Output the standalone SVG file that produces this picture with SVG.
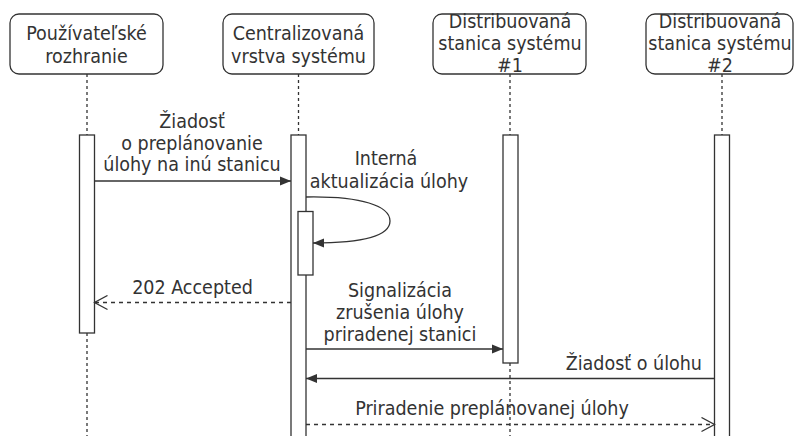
<svg xmlns="http://www.w3.org/2000/svg" width="798" height="436" viewBox="0 0 798 436">
  <style>
    text { font-family: "DejaVu Sans Condensed", "DejaVu Sans", sans-serif; font-stretch: condensed; font-size: 19.5px; fill: #333; }
    .mid { text-anchor: middle; }
    .end { text-anchor: end; }
    .head { fill: #fff; stroke: #333; stroke-width: 1.3; }
    .life { stroke: #333; stroke-width: 1.3; stroke-dasharray: 3 3; fill: none; }
    .bar { fill: #fff; stroke: #333; stroke-width: 1.3; }
    .msg { stroke: #333; stroke-width: 1.3; fill: none; }
    .ret { stroke: #333; stroke-width: 1.3; fill: none; stroke-dasharray: 4 4; }
  </style>
  <defs>
    <marker id="block" markerUnits="userSpaceOnUse" markerWidth="14" markerHeight="12" refX="12" refY="6" orient="auto">
      <path d="M1,1.5 L12,6 L1,10.5 z" fill="#333"/>
    </marker>
    <marker id="open" markerUnits="userSpaceOnUse" markerWidth="16" markerHeight="16" refX="14" refY="8" orient="auto">
      <path d="M1,1 L14,8 L1,15" fill="none" stroke="#333" stroke-width="1.3"/>
    </marker>
  </defs>

  <rect width="798" height="436" fill="#fff"/>

  <!-- lifelines -->
  <g id="lifelines">
    <line class="life" x1="87" y1="74" x2="87" y2="135"/>
    <line class="life" x1="87" y1="333" x2="87" y2="436"/>
    <line class="life" x1="298.5" y1="74" x2="298.5" y2="135"/>
    <line class="life" x1="510" y1="74" x2="510" y2="135"/>
    <line class="life" x1="510" y1="363" x2="510" y2="436"/>
    <line class="life" x1="722" y1="74" x2="722" y2="135"/>
  </g>

  <!-- participants -->
  <g id="ui">
    <rect class="head" x="10" y="14" width="153" height="60" rx="9"/>
    <text class="mid" x="86.5" y="40">Používateľské</text>
    <text class="mid" x="86.5" y="63">rozhranie</text>
    <rect class="bar" x="79.5" y="135" width="15" height="198"/>
  </g>

  <g id="central">
    <rect class="head" x="223" y="14" width="151" height="60" rx="9"/>
    <text class="mid" x="298.5" y="40">Centralizovaná</text>
    <text class="mid" x="298.5" y="63">vrstva systému</text>
    <rect class="bar" x="291" y="135" width="15" height="310"/>
    <rect class="bar" x="298" y="211.5" width="15" height="63.5"/>
  </g>

  <g id="station1">
    <rect class="head" x="433" y="14" width="153" height="60" rx="9"/>
    <text class="mid" x="510" y="28">Distribuovaná</text>
    <text class="mid" x="510" y="50">stanica systému</text>
    <text class="mid" x="510" y="72">#1</text>
    <rect class="bar" x="503" y="135" width="15" height="228"/>
  </g>

  <g id="station2">
    <rect class="head" x="646" y="14" width="147" height="60" rx="9"/>
    <text class="mid" x="720" y="28">Distribuovaná</text>
    <text class="mid" x="720" y="50">stanica systému</text>
    <text class="mid" x="720" y="72">#2</text>
    <rect class="bar" x="714.5" y="135" width="15" height="310"/>
  </g>

  <!-- messages -->
  <g id="messages">
    <line class="msg" x1="94.5" y1="181" x2="291" y2="181" marker-end="url(#block)"/>
    <text class="mid" x="192" y="128">Žiadosť</text>
    <text class="mid" x="192" y="150">o preplánovanie</text>
    <text class="mid" x="192" y="171">úlohy na inú stanicu</text>

    <path class="msg" d="M306,197 C362,196 390,206 390,221 C390,236 362,243 313,243" marker-end="url(#block)"/>
    <text class="mid" x="386" y="165">Interná</text>
    <text class="mid" x="389" y="188">aktualizácia úlohy</text>

    <line class="ret" x1="291" y1="302.5" x2="94.5" y2="302.5" marker-end="url(#open)"/>
    <text class="mid" x="192.5" y="294">202 Accepted</text>

    <line class="msg" x1="306" y1="349" x2="503" y2="349" marker-end="url(#block)"/>
    <text class="mid" x="400" y="297">Signalizácia</text>
    <text class="mid" x="400" y="319">zrušenia úlohy</text>
    <text class="mid" x="400" y="341">priradenej stanici</text>

    <line class="msg" x1="714.5" y1="378.5" x2="306" y2="378.5" marker-end="url(#block)"/>
    <text class="end" x="702" y="370">Žiadosť o úlohu</text>

    <line class="ret" x1="306" y1="424.5" x2="714.5" y2="424.5" marker-end="url(#open)"/>
    <text class="mid" x="492" y="415">Priradenie preplánovanej úlohy</text>
  </g>
</svg>
